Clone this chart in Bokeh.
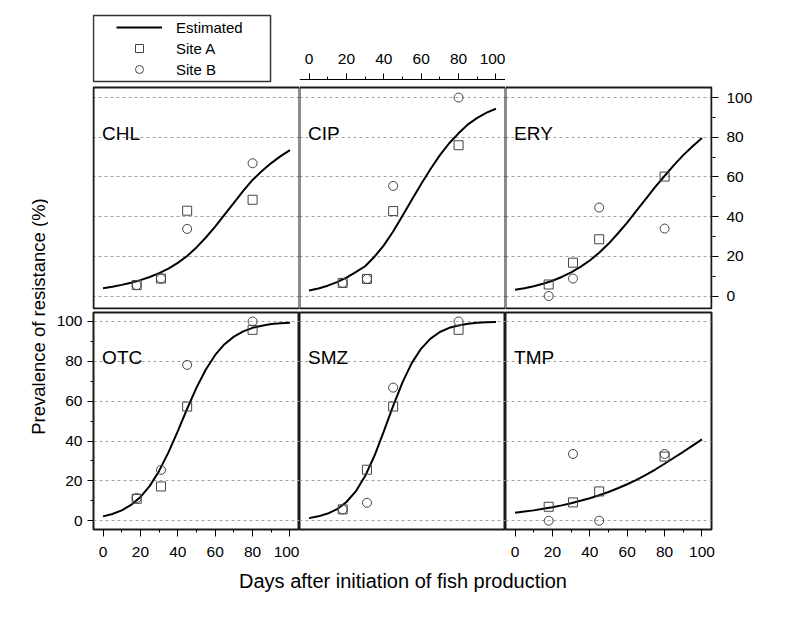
from bokeh.plotting import figure
from bokeh.models import (LinearAxis, FixedTicker, Grid, Range1d, Label, Legend,
                          LegendItem, BoxAnnotation)
from bokeh.layouts import row, column
from bokeh.embed import file_html
from bokeh.resources import INLINE

FONT = "Liberation Sans"

# ---------------- data ----------------
days = [18, 31, 45, 80]
curve_days = [0, 5, 10, 15, 20, 25, 30, 35, 40, 45, 50,
              55, 60, 65, 70, 75, 80, 85, 90, 95, 100]

drug_names = ["CHL", "CIP", "ERY", "OTC", "SMZ", "TMP"]

chl_site_a = [5.5, 8.8, 43.0, 48.5]
chl_site_b = [5.5, 8.8, 33.8, 66.9]
chl_estimated = [3.9, 4.7, 5.6, 6.7, 8.0, 9.6, 11.5, 13.8, 16.7, 20.2, 24.5,
                 29.5, 35.0, 41.0, 47.0, 53.0, 58.5, 63.0, 67.0, 70.5, 73.5]

cip_site_a = [6.6, 8.6, 42.8, 76.0]
cip_site_b = [6.6, 8.6, 55.5, 100.0]
cip_estimated = [2.8, 3.8, 5.2, 7.0, 9.3, 12.0, 15.0, 19.8, 25.5, 32.5, 40.5,
                 48.5, 56.5, 64.0, 71.0, 77.0, 82.0, 86.5, 89.8, 92.4, 94.4]

ery_site_a = [5.8, 16.8, 28.6, 60.2]
ery_site_b = [0.0, 8.8, 44.6, 34.0]
ery_estimated = [3.1, 3.9, 4.9, 6.2, 7.7, 9.6, 11.9, 14.7, 17.9, 21.8, 26.3,
                 31.5, 37.0, 43.0, 49.0, 55.0, 60.5, 66.0, 71.0, 75.5, 79.6]

otc_site_a = [11.0, 17.2, 57.3, 95.8]
otc_site_b = [11.4, 25.5, 78.2, 100.0]
otc_estimated = [2.2, 3.4, 5.2, 7.9, 11.9, 17.5, 25.0, 34.3, 45.0, 56.2, 66.8,
                 75.9, 83.2, 88.6, 92.4, 95.0, 96.8, 97.9, 98.7, 99.1, 99.4]

smz_site_a = [5.7, 25.6, 57.3, 95.8]
smz_site_b = [5.7, 9.0, 66.8, 100.0]
smz_estimated = [1.3, 2.2, 3.6, 5.8, 9.4, 14.7, 22.4, 32.6, 44.8, 57.6, 69.4,
                 79.2, 86.4, 91.4, 94.7, 96.8, 98.0, 98.8, 99.3, 99.6, 99.7]

tmp_site_a = [7.0, 9.2, 14.7, 32.2]
tmp_site_b = [0.0, 33.5, 0.0, 33.5]
tmp_estimated = [4.0, 4.6, 5.2, 6.0, 6.8, 7.7, 8.8, 10.0, 11.3, 12.8, 14.4,
                 16.3, 18.3, 20.5, 23.0, 25.7, 28.6, 31.6, 34.6, 37.7, 40.8]

tick_values = [0, 20, 40, 60, 80, 100]
minor_tick_values = [0, 10, 20, 30, 40, 50, 60, 70, 80, 90, 100]

x_label = "Days after initiation of fish production"
y_label = "Prevalence of resistance (%)"
legend_labels = ["Estimated", "Site A", "Site B"]

# ---------------- layout geometry ----------------
YFIG_W = 48
FW = 206
BOT_FH = 217
X_RANGE = (-5.1, 105.1)          # visible panel extent in x
TOP_YR = (-6.3, 105.1)           # visible panel extent, top row
BOT_YR = (-4.4, 104.5)           # panel extent, bottom row
LEFT_B, RIGHT_B = 45, 55
# top-row frames are extended upwards (room for legend and top axis inside them)
TOP_T, TOP_FH, TOP_B = 13, 296, 1
TOP_FRAME_YR = (-6.804, 142.4)
BOT_T, BOT_B = 2, 40
XLAB_H = 40
TOP_AXIS_AT = 109.1              # data height of the top axis line of CIP
LEGEND_BOX = (X_RANGE[0], 89.6, 108.1, 141.4)   # left, right, bottom, top


def make_axis(tick_out=6, standoff=6, line=False, fixed=None):
    return LinearAxis(
        ticker=FixedTicker(ticks=tick_values, minor_ticks=minor_tick_values),
        major_tick_out=tick_out, major_tick_in=0, minor_tick_out=3, minor_tick_in=0,
        major_tick_line_color="black", minor_tick_line_color="black",
        major_tick_line_width=1, minor_tick_line_width=1,
        axis_line_color="black" if line else None, axis_line_width=1,
        major_label_text_font=FONT, major_label_text_font_size="15.5px",
        major_label_text_color="black", major_label_standoff=standoff,
        fixed_location=fixed)


def make_panel(name, est, a, b, xr, yr, fw, fh, mb, box=False):
    p = figure(frame_width=fw, frame_height=fh,
               x_range=Range1d(*xr), y_range=Range1d(*yr),
               x_axis_type=None, y_axis_type=None,
               toolbar_location=None, output_backend="svg",
               min_border_left=mb[0], min_border_right=mb[1],
               min_border_top=mb[2], min_border_bottom=mb[3])
    p.background_fill_color = "white"
    p.border_fill_color = "white"
    if box:
        p.outline_line_color = None
        p.add_layout(BoxAnnotation(left=X_RANGE[0], right=X_RANGE[1],
                                   bottom=TOP_YR[0], top=TOP_YR[1],
                                   fill_color=None, fill_alpha=0,
                                   line_color="#1a1a1a", line_alpha=1.0,
                                   line_width=2))
    else:
        p.outline_line_color = "#1a1a1a"
        p.outline_line_width = 2
    grid = Grid(dimension=1, ticker=FixedTicker(ticks=tick_values),
                grid_line_color="#a0a0a0", grid_line_dash="3 3", grid_line_width=1)
    p.add_layout(grid, "center")
    line = p.line(curve_days, est, line_color="black", line_width=2)
    sa = p.scatter(days, a, marker="square", size=9, fill_color=None,
                   line_color="#444444", line_width=1)
    sb = p.scatter(days, b, marker="circle", size=9, fill_color=None,
                   line_color="#444444", line_width=1)
    p.add_layout(Label(x=-0.5, y=82, text=name, text_font=FONT,
                       text_font_size="19px", text_color="black",
                       text_align="left", text_baseline="alphabetic"))
    return p, line, sa, sb


tl, l_line, l_sa, l_sb = make_panel(drug_names[0], chl_estimated, chl_site_a, chl_site_b,
                                    (-5.635, 105.1), TOP_FRAME_YR, FW + 1, TOP_FH,
                                    (LEFT_B - 1, 0, TOP_T, TOP_B), box=True)
tm, _, _, _ = make_panel(drug_names[1], cip_estimated, cip_site_a, cip_site_b,
                         X_RANGE, TOP_FRAME_YR, FW, TOP_FH,
                         (0, 0, TOP_T, TOP_B), box=True)
tr, _, _, _ = make_panel(drug_names[2], ery_estimated, ery_site_a, ery_site_b,
                         (-5.1, 105.635), TOP_FRAME_YR, FW + 1, TOP_FH,
                         (0, RIGHT_B - 1, TOP_T, TOP_B), box=True)
bl, _, _, _ = make_panel(drug_names[3], otc_estimated, otc_site_a, otc_site_b,
                         X_RANGE, BOT_YR, FW, BOT_FH, (LEFT_B, 0, BOT_T, BOT_B))
bm, _, _, _ = make_panel(drug_names[4], smz_estimated, smz_site_a, smz_site_b,
                         X_RANGE, BOT_YR, FW, BOT_FH, (0, 0, BOT_T, BOT_B))
br, _, _, _ = make_panel(drug_names[5], tmp_estimated, tmp_site_a, tmp_site_b,
                         X_RANGE, BOT_YR, FW, BOT_FH, (0, RIGHT_B, BOT_T, BOT_B))

# top-middle: x axis above the panel, with a small gap
tm.add_layout(make_axis(tick_out=6, standoff=10, line=True, fixed=TOP_AXIS_AT), "above")

# top-right: y axis on the right
tr.add_layout(make_axis(tick_out=6, standoff=8), "right")

# bottom-left: y axis left, x axis below
bl.add_layout(make_axis(tick_out=6, standoff=5), "left")
bl.add_layout(make_axis(tick_out=7, standoff=10), "below")

# bottom-right: x axis below
br.add_layout(make_axis(tick_out=7, standoff=10), "below")

# legend above the CHL panel
tl.add_layout(BoxAnnotation(left=LEGEND_BOX[0], right=LEGEND_BOX[1],
                            bottom=LEGEND_BOX[2], top=LEGEND_BOX[3],
                            fill_color="white", fill_alpha=1,
                            line_color="#333333", line_alpha=1.0, line_width=1.5))
legend = Legend(items=[LegendItem(label=legend_labels[0], renderers=[l_line]),
                       LegendItem(label=legend_labels[1], renderers=[l_sa]),
                       LegendItem(label=legend_labels[2], renderers=[l_sb])],
                location=(24, 230), padding=0, margin=0, spacing=1,
                glyph_width=46, glyph_height=20, label_height=20, label_standoff=14,
                label_text_font=FONT, label_text_font_size="15px",
                label_text_color="black",
                border_line_color=None, background_fill_alpha=0)
tl.add_layout(legend, "center")

ROW_W = (LEFT_B + FW) + FW + (FW + RIGHT_B)
TOTAL_H = TOP_T + TOP_FH + TOP_B + BOT_T + BOT_FH + BOT_B + XLAB_H

# shared x-axis title, centred on the lattice
xfig = figure(frame_width=ROW_W, frame_height=XLAB_H,
              x_range=Range1d(0, ROW_W), y_range=Range1d(0, XLAB_H),
              x_axis_type=None, y_axis_type=None, toolbar_location=None,
              output_backend="svg", min_border=0)
xfig.outline_line_color = None
xfig.background_fill_color = "white"
xfig.border_fill_color = "white"
xfig.add_layout(Label(x=402.5 - YFIG_W, y=XLAB_H - 11, text=x_label,
                      text_font=FONT, text_font_size="20px", text_color="black",
                      text_align="center", text_baseline="middle"))

# shared y-axis title, centred on the lattice
yfig = figure(frame_width=YFIG_W, frame_height=TOTAL_H,
              x_range=Range1d(0, YFIG_W), y_range=Range1d(0, TOTAL_H),
              x_axis_type=None, y_axis_type=None, toolbar_location=None,
              output_backend="svg", min_border=0)
yfig.outline_line_color = None
yfig.background_fill_color = "white"
yfig.border_fill_color = "white"
yfig.add_layout(Label(x=38, y=TOTAL_H - 316, text=y_label, angle=90, angle_units="deg",
                      text_font=FONT, text_font_size="18.5px", text_color="black",
                      text_align="center", text_baseline="middle"))

layout = row(yfig, column(row(tl, tm, tr), row(bl, bm, br), xfig))

open("out.html", "w").write(file_html(layout, INLINE))
